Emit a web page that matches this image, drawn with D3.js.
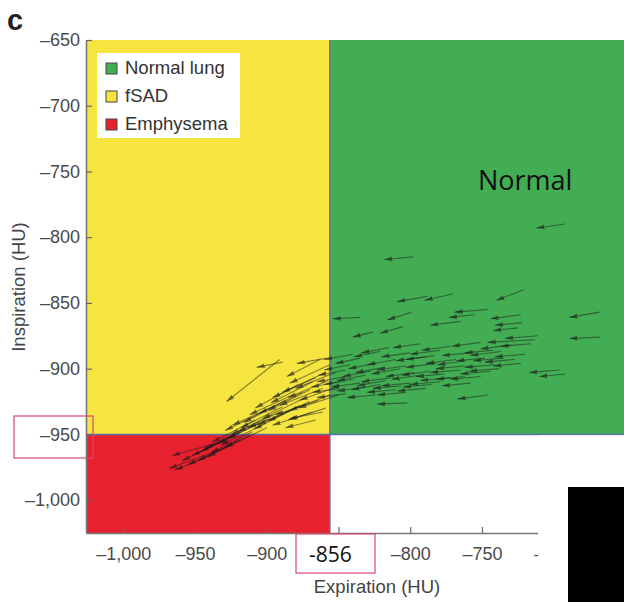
<!DOCTYPE html>
<html>
<head>
<meta charset="utf-8">
<script src="https://cdn.jsdelivr.net/npm/d3@7"></script>
<style>
  body { margin: 0; background: #fff; }
  svg { display: block; }
</style>
</head>
<body>
<svg id="chart" width="624" height="602"></svg>
<script>
// zone legend
const zoneNames = ["Normal lung", "fSAD", "Emphysema"];
const zoneColor = { "Normal lung": "#43ad53", "fSAD": "#f6e541", "Emphysema": "#e8212f" };

// thresholds (HU)
const expThreshold = -856;
const inspThreshold = -950;

// axis ticks
const expTicks = [-1000, -950, -900, -850, -800, -750, -700];
const inspTicks = [-650, -700, -750, -800, -850, -900, -950, -1000];

// arrows: start (tail) -> end (head), in HU
const expStart = [
  -692, -798, -788, -770, -721, -668, -668, -696, -692, -746, -802, -835,
  -799, -805, -826, -765, -746, -755, -723, -722, -725, -711, -713, -716,
  -793, -772, -751, -730,
  -821, -800, -779, -758, -737, -720,
  -835, -810, -789, -768, -748, -727,
  -842, -824, -803, -782, -762, -741, -723,
  -845, -828, -807, -786, -765, -744,
  -845, -831, -814, -793, -772, -751,
  -849, -835, -817, -800, -779, -758,
  -849, -831, -810, -789,
  -845, -824, -803,
  -840, -815, -783, -761, -738, -818, -797, -776, -840, -821, -806, -785, -762, -735, -742,
  -856, -859, -857, -861, -856, -866, -870, -864, -873, -878, -877, -882, -884, -887, -891, -894,
  -898, -901, -903, -908, -910, -915, -919, -922, -925, -929, -934, -936, -939,
  -852, -849, -850, -859, -868, -891, -889, -863, -858, -861, -866,
  -868, -875, -889, -896, -905, -912, -870, -880, -900, -918
];
const inspStart = [
  -790, -815, -845, -843, -840, -857, -876, -901, -904, -920, -926, -861,
  -857, -868, -872, -864, -855, -859, -859, -865, -869, -875, -878, -881,
  -881, -883, -880, -882,
  -887, -888, -886, -888, -887, -889,
  -892, -893, -891, -893, -892, -893,
  -897, -896, -898, -896, -898, -897, -896,
  -901, -902, -900, -902, -901, -902,
  -906, -905, -907, -905, -907, -906,
  -910, -911, -909, -911, -910, -911,
  -915, -914, -916, -915,
  -919, -920, -918,
  -889, -884, -890, -894, -900, -899, -903, -904, -908, -912, -913, -912, -906, -892, -886,
  -897, -903, -909, -915, -920, -907, -916, -924, -922, -912, -928, -920, -932, -924, -933, -928,
  -938, -932, -943, -939, -948, -945, -954, -951, -958, -954, -962, -957, -966,
  -903, -913, -920, -930, -933, -893, -895, -893, -892, -933, -939,
  -910, -918, -929, -935, -941, -951, -925, -930, -945, -948
];
const expEnd = [
  -712, -818, -809, -790, -740, -689, -689, -717, -710, -767, -823, -854,
  -816, -821, -840, -786, -769, -773, -744, -741, -742, -734, -746, -737,
  -812, -792, -771, -751,
  -839, -820, -800, -778, -758, -741,
  -852, -830, -810, -789, -768, -748,
  -860, -843, -823, -803, -782, -762, -742,
  -864, -847, -827, -806, -786, -765,
  -865, -851, -834, -813, -793, -772,
  -869, -855, -837, -820, -800, -778,
  -868, -851, -830, -809,
  -865, -844, -823,
  -860, -834, -803, -781, -759, -838, -817, -796, -860, -841, -826, -805, -782, -756, -762,
  -884, -889, -885, -891, -884, -896, -899, -894, -903, -908, -906, -912, -913, -916, -920, -924,
  -927, -929, -932, -938, -939, -943, -948, -952, -955, -959, -968, -966, -964,
  -880, -877, -878, -885, -896, -928, -907, -886, -879, -884, -887,
  -897, -905, -918, -925, -934, -941, -899, -909, -929, -946
];
const inspEnd = [
  -793, -817, -849, -848, -848, -861, -877, -903, -906, -923, -927, -862,
  -863, -873, -876, -867, -857, -861, -862, -867, -871, -877, -880, -883,
  -884, -886, -883, -885,
  -891, -891, -889, -890, -890, -891,
  -896, -897, -894, -896, -894, -895,
  -901, -900, -901, -899, -900, -899, -898,
  -905, -906, -904, -905, -903, -904,
  -910, -909, -910, -908, -909, -908,
  -914, -914, -913, -913, -912, -913,
  -918, -917, -918, -917,
  -922, -922, -920,
  -893, -888, -893, -897, -902, -903, -906, -906, -912, -916, -915, -914, -908, -894, -888,
  -911, -918, -922, -928, -932, -922, -932, -935, -938, -930, -943, -935, -945, -941, -948, -943,
  -953, -947, -958, -956, -964, -961, -970, -966, -973, -970, -976, -966, -977,
  -915, -924, -930, -939, -943, -925, -899, -906, -896, -938, -945,
  -926, -934, -945, -950, -957, -967, -940, -946, -960, -963
];

const arrows = expStart.map((d, i) => ({
  x0: d, y0: inspStart[i], x1: expEnd[i], y1: inspEnd[i]
}));

const svg = d3.select("#chart");
const font = "'Liberation Sans', Arial, Helvetica, sans-serif";

const x = d3.scaleLinear().domain([-1026, -651]).range([86, 624]);
const y = d3.scaleLinear().domain([-1025, -650]).range([533, 40]);

const [xMin, xMax] = x.domain();
const [yMin, yMax] = y.domain();

// zones
const zones = [
  { name: "fSAD", x0: xMin, x1: expThreshold, y0: inspThreshold, y1: yMax },
  { name: "Normal lung", x0: expThreshold, x1: xMax, y0: inspThreshold, y1: yMax },
  { name: "Emphysema", x0: xMin, x1: expThreshold, y0: yMin, y1: inspThreshold }
];
svg.append("g").selectAll("rect")
  .data(zones)
  .enter().append("rect")
  .attr("x", d => x(d.x0))
  .attr("y", d => y(d.y1))
  .attr("width", d => x(d.x1) - x(d.x0))
  .attr("height", d => y(d.y0) - y(d.y1))
  .attr("fill", d => zoneColor[d.name]);

// threshold lines
svg.append("line")
  .attr("x1", x(expThreshold)).attr("x2", x(expThreshold))
  .attr("y1", y(yMax)).attr("y2", y(yMin))
  .attr("stroke", "#5d6ea3").attr("stroke-width", 1.5);
svg.append("line")
  .attr("x1", x(xMin)).attr("x2", x(xMax))
  .attr("y1", y(inspThreshold)).attr("y2", y(inspThreshold))
  .attr("stroke", "#5d6ea3").attr("stroke-width", 1.5);

// arrows
svg.append("defs").append("marker")
  .attr("id", "head")
  .attr("viewBox", "0 -3 8 6")
  .attr("refX", 8).attr("refY", 0)
  .attr("markerWidth", 8).attr("markerHeight", 6)
  .attr("markerUnits", "userSpaceOnUse")
  .attr("orient", "auto")
  .append("path")
  .attr("d", "M0,-2.4L8,0L0,2.4Z")
  .attr("fill", "#1a1a1a")
  .attr("fill-opacity", 0.55);

svg.append("g").selectAll("line")
  .data(arrows)
  .enter().append("line")
  .attr("x1", d => x(d.x0)).attr("y1", d => y(d.y0))
  .attr("x2", d => x(d.x1)).attr("y2", d => y(d.y1))
  .attr("stroke", "#1a1a1a")
  .attr("stroke-opacity", 0.5)
  .attr("stroke-width", 1.1)
  .attr("marker-end", "url(#head)");

// axes
const fmt = v => "\u2013" + d3.format(",")(Math.abs(v));

const xAxis = svg.append("g")
  .attr("transform", `translate(0,${y(yMin)})`)
  .call(d3.axisBottom(x).tickValues(expTicks).tickFormat(fmt).tickSizeInner(-6).tickSizeOuter(0).tickPadding(14));
const yAxis = svg.append("g")
  .attr("transform", `translate(${x(xMin)},0)`)
  .call(d3.axisLeft(y).tickValues(inspTicks).tickFormat(fmt).tickSizeInner(-6).tickSizeOuter(0).tickPadding(6));

// the -850 label sits under the highlighted "-856" box
xAxis.selectAll(".tick text").filter(d => d === -850).remove();

[xAxis, yAxis].forEach(g => {
  g.select(".domain").attr("stroke", "#777").attr("stroke-width", 1.6);
  g.selectAll(".tick line").attr("stroke", "#666").attr("stroke-width", 1.2);
  g.selectAll(".tick text")
    .attr("fill", "#4a4a4a")
    .style("font-family", font)
    .style("font-size", "18px");
});

// axis titles
svg.append("text")
  .attr("x", 377).attr("y", 593)
  .attr("text-anchor", "middle")
  .attr("fill", "#444")
  .style("font-family", font).style("font-size", "18.5px")
  .text("Expiration (HU)");
svg.append("text")
  .attr("transform", "translate(25,287) rotate(-90)")
  .attr("text-anchor", "middle")
  .attr("fill", "#444")
  .style("font-family", font).style("font-size", "18.5px")
  .text("Inspiration (HU)");

// panel letter
svg.append("text")
  .attr("x", 7).attr("y", 30)
  .attr("fill", "#222")
  .style("font-family", font).style("font-size", "29px").style("font-weight", "bold")
  .text("c");

// legend
const legend = svg.append("g").attr("transform", "translate(97,53)");
legend.append("rect")
  .attr("width", 143).attr("height", 85)
  .attr("fill", "#fff");
const item = legend.selectAll("g.item")
  .data(zoneNames)
  .enter().append("g")
  .attr("class", "item")
  .attr("transform", (d, i) => `translate(9,${10 + i * 28})`);
item.append("rect")
  .attr("width", 11).attr("height", 11)
  .attr("fill", d => zoneColor[d])
  .attr("stroke", "#444").attr("stroke-width", 1);
item.append("text")
  .attr("x", 19).attr("y", 11)
  .attr("fill", "#333")
  .style("font-family", font).style("font-size", "18.5px")
  .text(d => d);

// "Normal" annotation
svg.append("text")
  .attr("x", 478).attr("y", 190)
  .attr("fill", "#111")
  .style("font-family", "'Open Sans', 'Noto Sans', sans-serif").style("font-size", "27px")
  .text("Normal");

// cropped-out corner of the original figure
svg.append("rect")
  .attr("x", 538).attr("y", y(inspThreshold) + 1)
  .attr("width", 86).attr("height", 602 - y(inspThreshold))
  .attr("fill", "#fff");
svg.append("rect")
  .attr("x", 568).attr("y", 487)
  .attr("width", 56).attr("height", 115)
  .attr("fill", "#000");

// highlight boxes
svg.append("rect")
  .attr("x", 14).attr("y", 416)
  .attr("width", 79).attr("height", 42)
  .attr("fill", "none")
  .attr("stroke", "#d9476d").attr("stroke-width", 1.2);
svg.append("rect")
  .attr("x", 296).attr("y", 534)
  .attr("width", 79).attr("height", 39)
  .attr("fill", "#fff")
  .attr("stroke", "#d9476d").attr("stroke-width", 1.2);
svg.append("text")
  .attr("x", 309).attr("y", 562)
  .attr("fill", "#111")
  .style("font-family", "'Open Sans', 'Noto Sans', sans-serif").style("font-size", "21px")
  .text("-856");
</script>
</body>
</html>
